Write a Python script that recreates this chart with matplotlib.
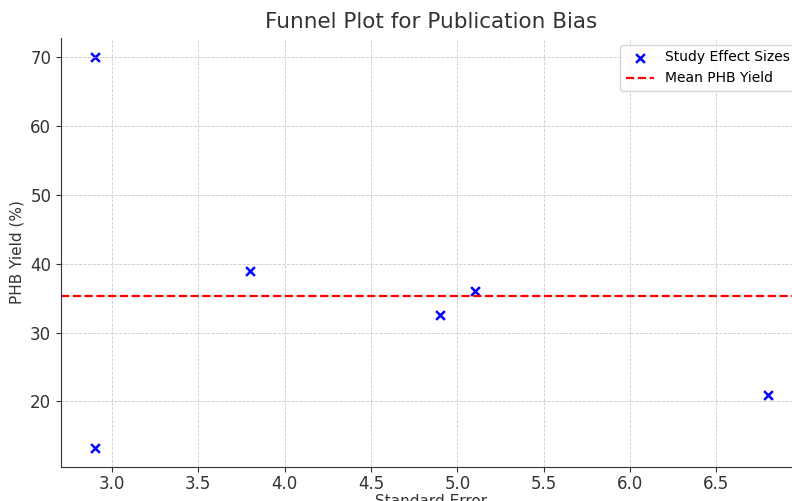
import matplotlib.pyplot as plt

std_error = [2.9, 2.9, 3.8, 4.9, 5.1, 6.8]
phb_yield = [70.0, 13.3, 39.0, 32.6, 36.1, 21.0]
mean_yield = sum(phb_yield) / len(phb_yield)

fig = plt.figure(figsize=(7.92, 5.01), dpi=100)
ax = fig.add_axes([61 / 792, 34 / 501, 741 / 792, 429 / 501])

ax.scatter(std_error, phb_yield, marker="x", color="blue", s=40, linewidths=1.8,
           label="Study Effect Sizes")
ax.axhline(mean_yield, color="red", linestyle="--", linewidth=1.6, label="Mean PHB Yield")

ax.set_title("Funnel Plot for Publication Bias", fontsize=15.5, color="#333333", pad=7)
ax.set_xlabel("Standard Error", fontsize=11, color="#333333", labelpad=1)
ax.set_ylabel("PHB Yield (%)", fontsize=11, color="#333333")
ax.tick_params(labelsize=12, labelcolor="#333333", color="#333333")
ax.tick_params(axis="x", pad=2)
ax.grid(True, linestyle="--", linewidth=0.6, color="#cccccc")
ax.spines["top"].set_visible(False)
ax.spines["right"].set_visible(False)
ax.spines["left"].set_color("#333333")
ax.spines["bottom"].set_color("#333333")
ax.legend(loc="upper right", fontsize=10)

plt.savefig("out.png")
plt.close()
